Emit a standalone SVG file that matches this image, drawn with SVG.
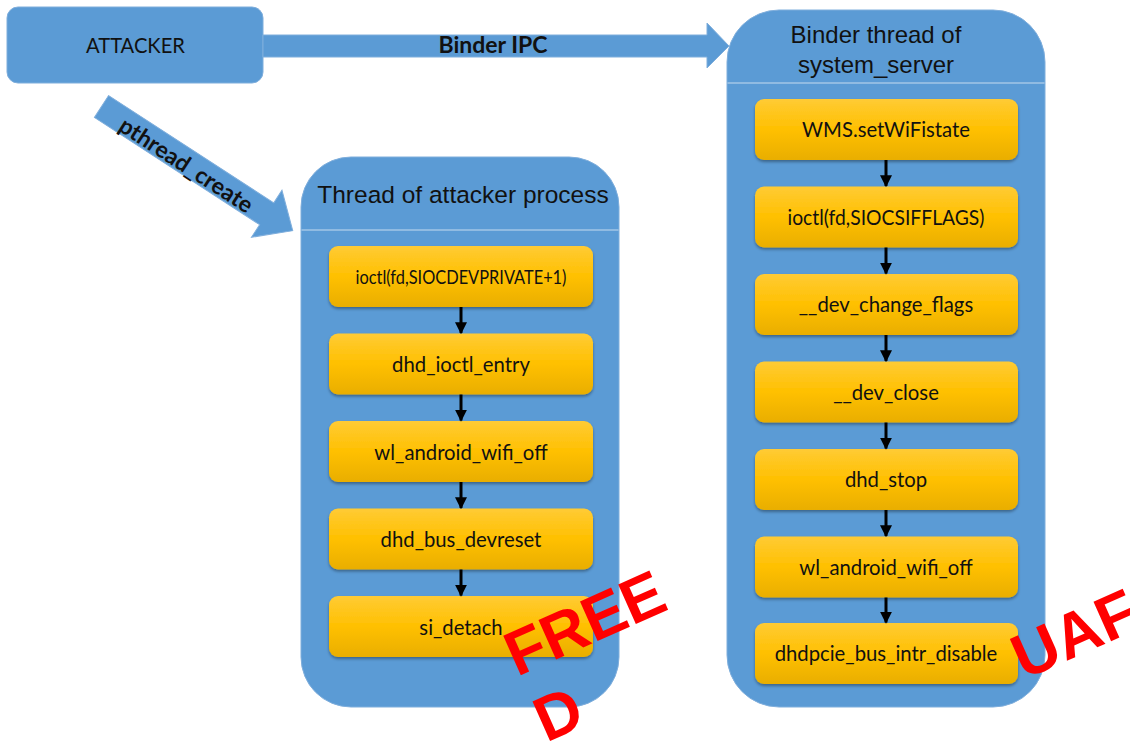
<svg xmlns="http://www.w3.org/2000/svg" width="1130" height="749" viewBox="0 0 1130 749">
<defs>
<linearGradient id="yel" x1="0" y1="0" x2="0" y2="1">
<stop offset="0" stop-color="#FFCB35"/>
<stop offset="0.5" stop-color="#FFC000"/>
<stop offset="1" stop-color="#E9AE00"/>
</linearGradient>
<filter id="sh" x="-10%" y="-10%" width="120%" height="130%">
<feDropShadow dx="0" dy="2" stdDeviation="1.5" flood-color="#000" flood-opacity="0.35"/>
</filter>
<marker id="ah" viewBox="0 0 10 10" refX="9" refY="5" markerWidth="4" markerHeight="4" orient="auto" markerUnits="strokeWidth">
<path d="M0,0 L10,5 L0,10 z" fill="#000"/>
</marker>
</defs>
<style>
.blue{fill:#5B9BD5;stroke:#7FAEDC;stroke-width:1}
.sep{stroke:#C5DCF0;stroke-width:1.2}
.yb{fill:url(#yel);filter:url(#sh)}
.bt{font-family:Lato,"Open Sans",sans-serif;font-size:20.3px;fill:#111;text-anchor:middle}
.tt{font-family:"Liberation Sans",Arial,sans-serif;font-size:24.5px;fill:#111;text-anchor:middle}
.tt2{font-family:"Liberation Sans",Arial,sans-serif;font-size:24px;fill:#111;text-anchor:middle}
.lbl{font-family:Lato,"Open Sans",sans-serif;font-weight:bold;font-size:23px;fill:#111;text-anchor:middle}
.con{stroke:#000;stroke-width:3;fill:none;marker-end:url(#ah)}
.red{font-family:"Liberation Sans",Arial,sans-serif;font-weight:bold;font-size:63px;fill:#FF0000}
</style>

<g id="attacker">
<rect class="blue" x="7" y="7" width="256" height="76" rx="11"/>
<text x="135.5" y="53" style="font-family:Lato,'Open Sans',sans-serif;font-size:21px;fill:#111;text-anchor:middle" textLength="99" lengthAdjust="spacingAndGlyphs">ATTACKER</text>
</g>

<g id="attacker-thread">
<rect class="blue" x="301" y="157" width="318" height="550" rx="50"/>
<line class="sep" x1="301.5" y1="230" x2="618.5" y2="230"/>
<text class="tt" x="463" y="203">Thread of attacker process</text>
</g>

<g id="binder-thread">
<rect class="blue" x="727" y="10" width="318" height="697" rx="52"/>
<line class="sep" x1="727.5" y1="83" x2="1044.5" y2="83"/>
<text class="tt2" x="876" y="43">Binder thread of</text>
<text class="tt2" x="876" y="73">system_server</text>
</g>

<g id="l1"><rect class="yb" x="329" y="246" width="264" height="61" rx="9"/><text class="bt" x="461" y="283.5" style="font-size:18.5px" textLength="211" lengthAdjust="spacingAndGlyphs">ioctl(fd,SIOCDEVPRIVATE+1)</text></g>
<g id="l2"><rect class="yb" x="329" y="333.5" width="264" height="61" rx="9"/><text class="bt" x="461" y="372">dhd_ioctl_entry</text></g>
<g id="l3"><rect class="yb" x="329" y="421" width="264" height="61" rx="9"/><text class="bt" x="461" y="459.5">wl_android_wifi_off</text></g>
<g id="l4"><rect class="yb" x="329" y="508.5" width="264" height="61" rx="9"/><text class="bt" x="461" y="547">dhd_bus_devreset</text></g>
<g id="l5"><rect class="yb" x="329" y="596" width="264" height="61" rx="9"/><text class="bt" x="461" y="634.5">si_detach</text></g>

<g id="r1"><rect class="yb" x="755" y="99" width="263" height="61" rx="9"/><text class="bt" x="886" y="137">WMS.setWiFistate</text></g>
<g id="r2"><rect class="yb" x="755" y="186.5" width="263" height="61" rx="9"/><text class="bt" x="886" y="225" textLength="197" lengthAdjust="spacingAndGlyphs">ioctl(fd,SIOCSIFFLAGS)</text></g>
<g id="r3"><rect class="yb" x="755" y="274" width="263" height="61" rx="9"/><text class="bt" x="886" y="312">__dev_change_flags</text></g>
<g id="r4"><rect class="yb" x="755" y="361.5" width="263" height="61" rx="9"/><text class="bt" x="886" y="399.5">__dev_close</text></g>
<g id="r5"><rect class="yb" x="755" y="449" width="263" height="61" rx="9"/><text class="bt" x="886" y="487">dhd_stop</text></g>
<g id="r6"><rect class="yb" x="755" y="536.5" width="263" height="61" rx="9"/><text class="bt" x="886" y="574.5">wl_android_wifi_off</text></g>
<g id="r7"><rect class="yb" x="755" y="623" width="263" height="61" rx="9"/><text class="bt" x="886" y="661">dhdpcie_bus_intr_disable</text></g>

<g id="connectors">
<polygon class="blue" points="263,35 707,35 707,23 729,46 707,68 707,57 263,57"/>
<text class="lbl" x="493" y="53">Binder IPC</text>
<g transform="translate(101.5,106.5) rotate(33)">
<polygon class="blue" points="0,-13 197,-13 197,-28 228,0 197,28 197,13 0,13"/>
<text class="lbl" x="103" y="11">pthread_create</text>
</g>
<line class="con" x1="461" y1="307" x2="461" y2="333"/>
<line class="con" x1="461" y1="394.5" x2="461" y2="420.5"/>
<line class="con" x1="461" y1="482" x2="461" y2="508"/>
<line class="con" x1="461" y1="569.5" x2="461" y2="595.5"/>
<line class="con" x1="886" y1="160" x2="886" y2="186"/>
<line class="con" x1="886" y1="247.5" x2="886" y2="273.5"/>
<line class="con" x1="886" y1="335" x2="886" y2="361"/>
<line class="con" x1="886" y1="422.5" x2="886" y2="448.5"/>
<line class="con" x1="886" y1="510" x2="886" y2="536"/>
<line class="con" x1="886" y1="597.5" x2="886" y2="622.5"/>
</g>

<g id="freed">
<text class="red" transform="translate(517,677) rotate(-24)"><tspan x="0" y="0">FREE</tspan><tspan x="0" y="72">D</tspan></text>
</g>
<g id="uaf">
<text class="red" transform="translate(1024,680) rotate(-24)">UAF</text>
</g>
</svg>
